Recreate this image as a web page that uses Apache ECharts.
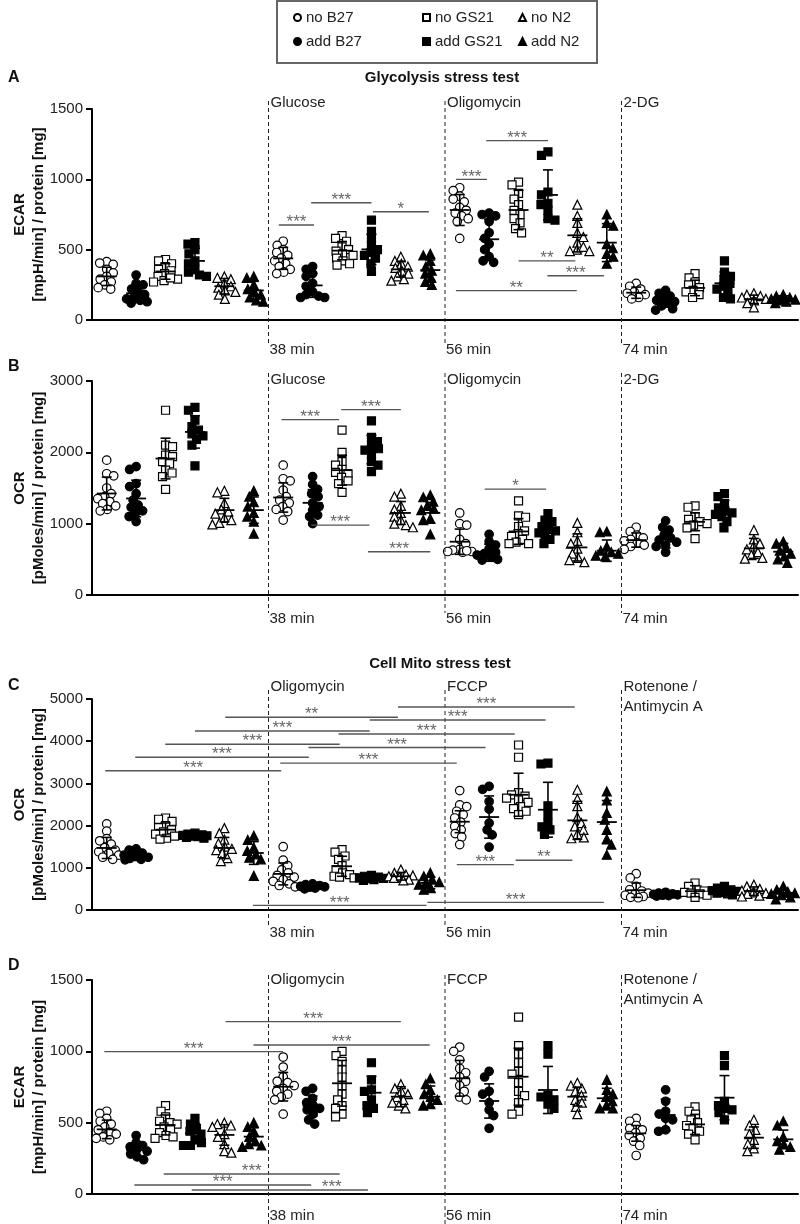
<!DOCTYPE html>
<html><head><meta charset="utf-8">
<script src="https://cdn.jsdelivr.net/npm/echarts@6.0.0/dist/echarts.min.js"></script>
<style>html,body{margin:0;padding:0;background:#fff}#c{width:800px;height:1224px}</style>
</head><body><div id="c"></div><script>
// ---------- DATA ----------
const groups = ['no B27', 'add B27', 'no GS21', 'add GS21', 'no N2', 'add N2'];
const stages = ['Baseline', 'Injection 1', 'Injection 2', 'Injection 3'];
const glyPhases = ['Glucose', 'Oligomycin', '2-DG'];
const mitoPhases = ['Oligomycin', 'FCCP', 'Rotenone /\nAntimycin A'];
const timeLabels = ['38 min', '56 min', '74 min'];
const titles = ['Glycolysis stress test', 'Cell Mito stress test'];
const panelLetters = ['A', 'B', 'C', 'D'];
const yNames = ['ECAR\n[mpH/min] / protein [mg]', 'OCR\n[pMoles/min] / protein [mg]',
                'OCR\n[pMoles/min] / protein [mg]', 'ECAR\n[mpH/min] / protein [mg]'];

// Panel A: ECAR, glycolysis stress test (24 groups: 4 stages x 6 media)
const ecarGlyPoints = [
 [415,405,395,360,335,310,290,270,250,230,220],
 [320,260,250,220,200,180,160,150,130,120,140],
 [430,420,400,380,360,350,330,310,290,280,270,300],
 [550,540,500,470,420,400,360,340,320,310],
 [310,300,290,260,240,230,210,200,180,150],
 [310,300,250,220,200,180,160,140,130],
 [560,530,500,480,460,440,420,400,380,360,340,330],
 [380,360,330,310,260,240,200,180,170,160,160],
 [600,580,560,520,500,490,470,460,440,420,400,390],
 [710,630,580,530,500,480,460,440,400,345],
 [450,420,400,380,370,350,330,310,290,280],
 [470,460,420,380,350,330,300,270,250],
 [940,920,880,860,840,800,780,760,740,720,700,580],
 [760,750,740,700,620,580,540,500,450,420,410],
 [980,960,900,860,820,780,750,720,690,650,620],
 [1195,1170,910,890,830,820,780,720,710],
 [820,740,690,620,590,550,520,500,490,490],
 [750,690,670,540,510,470,450,400],
 [260,240,220,200,190,180,160,150],
 [210,190,170,150,140,130,120,100,80,70],
 [330,300,270,250,230,210,200,180,160],
 [420,340,310,290,260,240,220,200,160,150],
 [190,180,170,160,150,140,120,90],
 [180,170,160,150,145,140,130,120]
];
const ecarGlyMeans = [310,190,345,420,240,210,438,246,493,502,360,355,782,574,782,889,602,550,194,137,228,261,147,147];
const ecarGlySds   = [65,65,55,90,55,65,78,85,65,108,55,72,110,140,140,178,118,135,40,45,55,80,30,25];
const ecarGlySig = [
 [5.85,7.05,675,'***'],[6.95,9.0,834,'***'],[9.05,10.95,770,'*'],
 [11.87,12.93,1000,'***'],[12.9,15.0,1275,'***'],[14.0,15.93,420,'**'],
 [14.98,16.9,315,'***'],[11.87,15.98,209,'**']
];

// Panel B: OCR, glycolysis stress test
const ocrGlyPoints = [
 [1890,1700,1670,1500,1420,1380,1350,1310,1280,1250,1200,1180],
 [1800,1760,1560,1520,1420,1330,1260,1230,1180,1150,1100,1030],
 [2590,2100,2080,1960,1940,1870,1840,1750,1710,1660,1480],
 [2630,2590,2450,2360,2310,2260,2230,2180,2100,1810],
 [1460,1440,1290,1200,1170,1140,1080,1050,1010,990],
 [1460,1380,1300,1240,1150,1100,1030,860],
 [1820,1630,1600,1470,1380,1330,1290,1240,1200,1170,1050],
 [1660,1550,1480,1420,1380,1290,1240,1190,1120,1100,1000],
 [2310,2000,1870,1820,1760,1720,1700,1650,1600,1560,1440],
 [2440,2210,2150,2080,2050,2030,1980,1870,1820,1730],
 [1420,1380,1250,1200,1150,1100,1050,1000,980,950],
 [1400,1370,1310,1250,1210,1190,1070,1050,850],
 [1150,1000,980,780,720,640,630,610,600,610,620],
 [850,750,700,650,600,580,560,530,500,490],
 [1320,1110,1090,960,900,860,820,780,740,720,720],
 [1140,1050,1030,960,920,900,870,850,780,720],
 [1010,880,760,720,650,580,520,490,460],
 [890,880,680,620,600,580,550,540],
 [950,890,840,800,780,760,730,700,680,640],
 [1040,950,910,840,800,770,740,700,680,600],
 [1250,1230,1100,1060,1030,1000,980,940,790],
 [1420,1380,1280,1220,1180,1150,1130,1100,1030,940],
 [910,780,720,680,640,600,560,520,510],
 [750,720,660,620,580,540,500,450]
];
const ocrGlyMeans = [1423,1353,1913,2286,1190,1190,1367,1292,1750,2039,1150,1152,747,593,891,919,667,621,770,784,1026,1166,653,607];
const ocrGlySds   = [230,257,285,227,165,185,205,185,210,200,160,145,177,120,180,140,190,150,100,126,125,163,140,117];
const ocrGlySig = [
 [5.94,7.9,2459,'***'],[7.97,10.0,2599,'***'],[6.95,8.93,980,'***'],
 [8.88,11.0,607,'***'],[12.85,14.94,1484,'*']
];

// Panel C: OCR, cell mito stress test
const ocrMitoPoints = [
 [2040,1870,1690,1640,1560,1480,1420,1380,1340,1300,1250,1200],
 [1450,1420,1350,1300,1280,1250,1220,1200,1190],
 [2180,2150,2100,2000,1950,1900,1850,1800,1750,1700,1680],
 [1820,1800,1780,1770,1760,1750,1740,1720,1700],
 [1940,1820,1670,1580,1500,1450,1420,1350,1230,1160],
 [1760,1660,1480,1400,1320,1240,1200,810],
 [1500,1180,1050,950,880,820,780,720,680,620,580,550],
 [620,600,580,560,550,540,520,500],
 [1430,1370,1280,1200,1050,960,880,840,800,780,760],
 [820,800,780,760,750,740,720,700],
 [960,880,840,820,800,780,760,720,700],
 [880,800,720,660,640,600,520,480],
 [2830,2490,2450,2340,2260,2180,2080,1980,1900,1810,1730,1550],
 [2930,2860,2570,2390,2060,1900,1780,1490],
 [3910,3620,2780,2730,2700,2650,2610,2550,2450,2400,2340,2260],
 [3480,3460,2470,2260,2060,1970,1900,1790],
 [2850,2630,2460,2200,2060,1980,1900,1800,1720,1700],
 [2810,2600,2300,2140,1900,1680,1550,1310],
 [860,760,560,480,450,400,380,350,320,300,290],
 [420,400,380,370,360,350,340,330],
 [640,560,480,450,420,400,380,350,300],
 [560,520,480,460,440,420,400,380,360],
 [600,560,500,460,420,400,380,340,320],
 [560,480,430,400,380,350,300,250]
];
const ocrMitoMeans = [1470,1273,1903,1761,1470,1351,855,564,1036,760,800,642,2092,2203,2731,2376,2124,2084,469,367,446,446,446,406];
const ocrMitoSds   = [250,100,160,50,250,270,260,40,237,40,90,140,260,500,510,650,450,510,170,40,130,70,100,100];
const ocrMitoSig = [
 [-0.05,5.93,3298,'***'],[0.97,6.87,3621,'***'],[1.99,7.92,3929,'***'],
 [3.0,8.94,4243,'***'],[4.03,9.9,4567,'**'],[5.9,11.9,3480,'***'],
 [6.86,12.88,3849,'***'],[7.88,13.87,4172,'***'],[8.94,14.92,4503,'***'],
 [9.9,15.91,4811,'***'],[11.9,13.84,1076,'***'],[13.9,15.83,1178,'**'],
 [4.97,10.87,110,'***'],[10.9,16.9,180,'***']
];

// Panel D: ECAR, cell mito stress test
const ecarMitoPoints = [
 [580,565,530,510,490,470,450,430,420,400,390,380],
 [410,360,340,330,310,300,280,260,240],
 [620,580,540,510,500,490,470,450,430,410,400,390],
 [530,490,460,440,420,380,360,340,340],
 [500,490,480,470,420,400,350,300,290],
 [500,470,440,400,370,350,340,330],
 [960,890,820,790,780,760,740,720,700,680,660,560],
 [740,720,670,640,620,600,590,560,520,490],
 [1000,970,930,870,820,760,700,660,620,560,540,600],
 [920,800,730,720,660,620,600,570],
 [770,740,720,700,680,660,640,620,600],
 [810,770,730,700,680,660,630,620],
 [1030,1000,940,880,850,820,790,760,720,680,660],
 [860,820,720,700,640,590,550,460],
 [1240,1040,980,920,860,840,780,720,690,640,580,560],
 [1040,980,690,680,660,630,600],
 [780,760,740,720,690,660,640,610,560],
 [800,730,700,680,650,620,600,600],
 [530,510,480,460,450,430,410,390,370,340,270],
 [730,650,580,560,530,520,450,440],
 [610,580,560,520,500,480,460,440,420,380],
 [970,900,650,620,600,590,570,520],
 [520,480,450,420,380,350,320,300],
 [510,480,400,370,350,330,310]
];
const ecarMitoMeans = [453,308,484,425,414,402,752,617,776,710,682,682,811,652,822,729,682,671,425,554,488,675,395,383];
const ecarMitoSds   = [65,47,70,70,72,62,100,70,160,115,70,75,125,120,200,165,65,70,55,110,70,155,75,65];
const ecarMitoSig = [
 [-0.08,5.99,998,'***'],[4.04,10.0,1208,'***'],[4.99,10.98,1044,'***'],
 [1.94,7.92,140,'***'],[0.94,6.95,63,'***'],[2.89,8.88,28,'***',7.65]
];

// ---------- LAYOUT / STYLE ----------
const FONT = '"Liberation Sans", Arial, Helvetica, sans-serif';
const panelSets = [
 {pts: ecarGlyPoints,  means: ecarGlyMeans,  sds: ecarGlySds,  sig: ecarGlySig,  phases: glyPhases},
 {pts: ocrGlyPoints,   means: ocrGlyMeans,   sds: ocrGlySds,   sig: ocrGlySig,   phases: glyPhases},
 {pts: ocrMitoPoints,  means: ocrMitoMeans,  sds: ocrMitoSds,  sig: ocrMitoSig,  phases: mitoPhases},
 {pts: ecarMitoPoints, means: ecarMitoMeans, sds: ecarMitoSds, sig: ecarMitoSig, phases: mitoPhases}
];
const layout = [
 {top:109, height:211, max:1500, interval:500,  phaseDy:-6,  lineTop:-8, lineBot:25, timeDy:30},
 {top:381, height:214, max:3000, interval:1000, phaseDy:-1,  lineTop:-8, lineBot:18, timeDy:24},
 {top:699, height:211, max:5000, interval:1000, phaseDy:-12, lineTop:-9, lineBot:16, timeDy:23},
 {top:980, height:214, max:1500, interval:500,  phaseDy:0,   lineTop:-5, lineBot:30, timeDy:22}
];
const groupStyle = [
 {symbol:'circle', size:8.5, color:'#fff'},
 {symbol:'circle', size:8.5, color:'#000'},
 {symbol:'rect', size:8, color:'#fff'},
 {symbol:'rect', size:8, color:'#000'},
 {symbol:'triangle', size:9, color:'#fff'},
 {symbol:'triangle', size:9, color:'#000'}
];
const categories = [];
stages.forEach(s => groups.forEach(g => categories.push(s + ' ' + g)));

const grids = [], xAxes = [], yAxes = [], series = [];
layout.forEach((L, p) => {
  grids.push({left: 92, width: 706, top: L.top, height: L.height, outerBoundsMode: 'none', containLabel: false});
  xAxes.push({type:'category', gridIndex:p, data:categories, boundaryGap:true,
    axisLine:{lineStyle:{color:'#000', width:2}},
    axisTick:{alignWithLabel:true, length:6, lineStyle:{color:'#000', width:2}},
    axisLabel:{show:false}, splitLine:{show:false}});
  yAxes.push({type:'value', gridIndex:p, min:0, max:L.max, interval:L.interval,
    name: yNames[p], nameLocation:'middle', nameGap:44, nameRotate:90, nameMoveOverlap:false,
    nameTextStyle:{fontFamily:FONT, fontWeight:'bold', fontSize:15, lineHeight:19, color:'#111'},
    axisLine:{show:true, lineStyle:{color:'#000', width:2}},
    axisTick:{show:true, length:6, lineStyle:{color:'#000', width:2}},
    axisLabel:{fontFamily:FONT, fontSize:15, color:'#222', margin:9, formatter: v => String(v)},
    splitLine:{show:false}});
  groups.forEach((g, gi) => {
    const st = groupStyle[gi];
    const data = [];
    for (let k = 0; k < 4; k++) {
      const c = k * 6 + gi;
      panelSets[p].pts[c].forEach(v => data.push({value:[c, v]}));
    }
    series.push({type:'scatter', name:g, xAxisIndex:p, yAxisIndex:p, symbol:st.symbol, symbolSize:st.size,
      itemStyle:{color:st.color, borderColor:'#000', borderWidth:1.2, opacity:1},
      emphasis:{disabled:true}, z:2, data, _panel:p});
  });
  series.push(overlay(p));
});

function overlay(p) {
  const D = panelSets[p], L = layout[p];
  return {
    type:'custom', xAxisIndex:p, yAxisIndex:p, z:5, silent:true, clip:false,
    data:[[0, 0]],
    renderItem(params, api) {
      const c0 = api.coord([0, 0]), c1 = api.coord([1, 0]);
      const bw = c1[0] - c0[0];
      const X = c => c0[0] + c * bw;
      const Y = v => api.coord([0, v])[1];
      const yTop = Y(L.max), yAxis = Y(0);
      const ch = [];
      const line = (x1, y1, x2, y2, stroke, lw, dash) => ch.push({type:'line',
        shape:{x1, y1, x2, y2}, style:{stroke, lineWidth:lw, lineDash:dash || null}});
      const text = (x, y, t, o) => ch.push({type:'text', x, y,
        style:Object.assign({text:t, fill:'#222', fontSize:15, fontFamily:FONT, align:'left', verticalAlign:'middle'}, o || {})});
      D.means.forEach((m, c) => {
        const x = X(c), ym = Y(m), yt = Y(m + D.sds[c]), yb = Y(Math.max(0, m - D.sds[c]));
        line(x, yt, x, yb, '#000', 1.6);
        line(x - 5, yt, x + 5, yt, '#000', 1.6);
        line(x - 5, yb, x + 5, yb, '#000', 1.6);
        line(x - 10, ym, x + 10, ym, '#000', 1.8);
      });
      [5.5, 11.5, 17.5].forEach((b, k) => {
        const x = X(b);
        line(x, yTop + L.lineTop, x, yAxis + L.lineBot, '#222', 1, [4, 3]);
        text(x + 2, yTop + L.phaseDy - 10, D.phases[k], {verticalAlign:'top', lineHeight:20});
        text(x + 1, yAxis + L.timeDy, timeLabels[k]);
      });
      D.sig.forEach(s => {
        const a = s[0], b = s[1], v = s[2], lab = s[3], lc = s[4];
        const y = Y(v);
        line(X(a), y, X(b), y, '#555', 1.4);
        text(X(lc != null ? lc : (a + b) / 2), y - 11, lab,
          {align:'center', verticalAlign:'top', fill:'#666', fontSize:17});
      });
      return {type:'group', children:ch};
    }
  };
}

const legendBase = {orient:'vertical', top:9, itemGap:7, itemWidth:7, itemHeight:7, padding:0,
  textStyle:{fontFamily:FONT, fontSize:15, color:'#222', lineHeight:17}, selectedMode:false};

const option = {
  animation:false,
  backgroundColor:'#fff',
  grid: grids, xAxis: xAxes, yAxis: yAxes, series,
  legend: [
    Object.assign({}, legendBase, {left:293, data:['no B27', 'add B27']}),
    Object.assign({}, legendBase, {left:422, data:['no GS21', 'add GS21']}),
    Object.assign({}, legendBase, {left:518, data:['no N2', 'add N2']})
  ],
  graphic: [
    {type:'rect', shape:{x:277, y:1, width:320, height:62}, style:{fill:'none', stroke:'#666', lineWidth:2}},
    {type:'text', x:8, y:78, style:{text:panelLetters[0], font:'bold 16px ' + FONT, fill:'#111', verticalAlign:'middle'}},
    {type:'text', x:8, y:367, style:{text:panelLetters[1], font:'bold 16px ' + FONT, fill:'#111', verticalAlign:'middle'}},
    {type:'text', x:8, y:686, style:{text:panelLetters[2], font:'bold 16px ' + FONT, fill:'#111', verticalAlign:'middle'}},
    {type:'text', x:8, y:966, style:{text:panelLetters[3], font:'bold 16px ' + FONT, fill:'#111', verticalAlign:'middle'}},
    {type:'text', x:442, y:78, style:{text:titles[0], font:'bold 15px ' + FONT, fill:'#111', align:'center', verticalAlign:'middle'}},
    {type:'text', x:440, y:664, style:{text:titles[1], font:'bold 15px ' + FONT, fill:'#111', align:'center', verticalAlign:'middle'}}
  ]
};

const chart = echarts.init(document.getElementById('c'), null, {renderer:'canvas'});
chart.setOption(option);

// beeswarm spreading of overlapping points (pixel space via the axes), capped width
function swarm(ys, d, maxOff) {
  const order = ys.map((y, i) => i).sort((a, b) => ys[a] - ys[b]);
  const placed = [], off = new Array(ys.length).fill(0);
  order.forEach((i, n) => {
    const y = ys[i];
    let best = 0, bestD = -1;
    for (let k = 0; k <= maxOff * 2; k++) {
      const step = k * 0.5;
      const cands = k === 0 ? [0] : (n % 2 ? [-step, step] : [step, -step]);
      for (const dx of cands) {
        const md = placed.reduce((m, q) => Math.min(m, Math.hypot(q[0] - dx, q[1] - y)), Infinity);
        if (md >= d) { off[i] = dx; placed.push([dx, y]); return; }
        if (md > bestD) { bestD = md; best = dx; }
      }
    }
    off[i] = best; placed.push([best, y]);
  });
  return off;
}
const newSeries = series.map(s => {
  if (s.type !== 'scatter') return {};
  const p = s._panel;
  const byCat = {};
  s.data.forEach((it, i) => { (byCat[it.value[0]] = byCat[it.value[0]] || []).push(i); });
  const data = s.data.map(it => ({value: it.value.slice()}));
  Object.keys(byCat).forEach(c => {
    const idx = byCat[c];
    const ys = idx.map(i => chart.convertToPixel({gridIndex:p}, s.data[i].value)[1]);
    const off = swarm(ys, 7, 12);
    idx.forEach((i, j) => { data[i].symbolOffset = [off[j], 0]; });
  });
  return {data};
});
chart.setOption({series:newSeries});
</script></body></html>
